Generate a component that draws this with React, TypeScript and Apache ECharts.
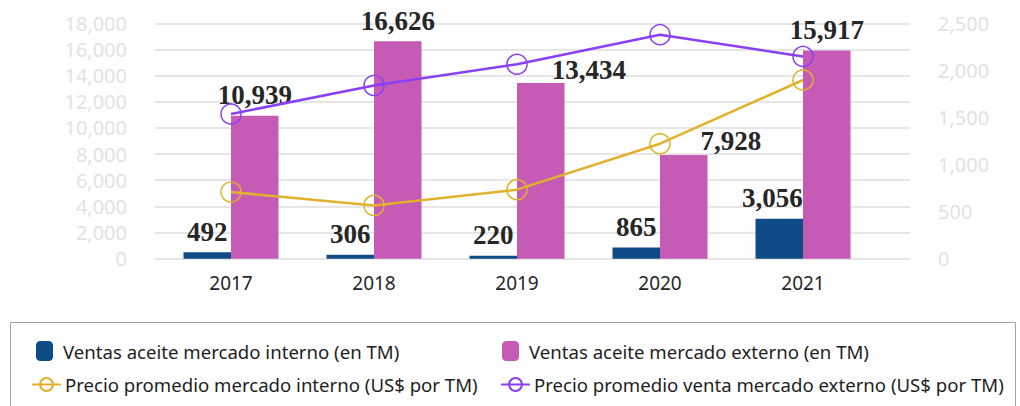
import React, { useEffect, useRef } from "react";
import * as echarts from "echarts";

const categories = ["2017", "2018", "2019", "2020", "2021"];
const ventasInterno = [492, 306, 220, 865, 3056];
const ventasExterno = [10939, 16626, 13434, 7928, 15917];
const precioInterno = [708, 566, 733, 1221, 1898];
const precioExterno = [1537, 1840, 2065, 2379, 2148];
const leftTicks = { min: 0, max: 18000, interval: 2000 };
const rightTicks = { min: 0, max: 2500, interval: 500 };

const names = [
  "Ventas aceite mercado interno (en TM)",
  "Ventas aceite mercado externo (en TM)",
  "Precio promedio mercado interno (US$ por TM)",
  "Precio promedio venta mercado externo (US$ por TM)",
];

const BLUE = "#0E4B87";
const PINK = "#C55BB5";
const YELLOW = "#E2B12C";
const PURPLE = "#8A3FF5";

export default function App() {
  const ref = useRef<HTMLDivElement>(null);
  useEffect(() => {
    document.body.style.margin = "0";
    const chart = echarts.init(ref.current!, null, { renderer: "svg" });
    const top = 23.3;
    const bottom = 406 - 258.7;
    const fmt = (v: number) => v.toLocaleString("en-US");
    const barLabel = {
      show: true,
      position: "top",
      distance: 7,
      fontFamily: "Liberation Serif",
      fontWeight: "bold",
      fontSize: 27,
      color: "#262626",
      formatter: (p: any) => fmt(p.value),
    };
    // label nudges (Excel manual placement in the original)
    const internoShift: Record<number, number[]> = { 4: [-7, 0] };
    const externoShift: Record<number, number[]> = { 2: [48, 7], 3: [47, 6] };
    const withShift = (arr: number[], shifts: Record<number, number[]>) =>
      arr.map((v, i) => (shifts[i] ? { value: v, label: { offset: shifts[i] } } : v));
    const legendText = { fontFamily: "Noto Sans", fontSize: 18.6, color: "#1E1E1E" };
    chart.setOption({
      animation: false,
      grid: [
        { left: 155, right: 110, top, bottom },
        { left: 159.5, right: 145.5, top, bottom },
      ],
      xAxis: [
        { type: "category", gridIndex: 0, data: categories, show: false },
        {
          type: "category",
          gridIndex: 1,
          data: categories,
          axisLine: { show: false },
          axisTick: { show: false },
          axisLabel: { color: "#262626", fontSize: 19, fontFamily: "Noto Sans", margin: 15 },
        },
      ],
      yAxis: [
        {
          type: "value",
          gridIndex: 0,
          position: "left",
          ...leftTicks,
          axisLine: { show: false },
          axisTick: { show: false },
          splitLine: { lineStyle: { color: "#E6E6E6", width: 2 } },
          axisLabel: { color: "#E2E2E2", fontSize: 20, fontFamily: "Noto Sans", margin: 28, formatter: fmt },
        },
        {
          type: "value",
          gridIndex: 0,
          position: "right",
          ...rightTicks,
          axisLine: { show: false },
          axisTick: { show: false },
          splitLine: { show: false },
          axisLabel: { color: "#E2E2E2", fontSize: 20, fontFamily: "Noto Sans", margin: 28, formatter: fmt },
        },
        { type: "value", gridIndex: 1, position: "left", ...leftTicks, show: false, splitLine: { show: false } },
        { type: "value", gridIndex: 1, position: "right", ...rightTicks, show: false, splitLine: { show: false } },
      ],
      legend: [
        { data: [names[0]], left: 36, top: 341, itemWidth: 17, itemHeight: 20, padding: 0, textStyle: { ...legendText, padding: [0, 0, 0, 5] } },
        { data: [names[1]], left: 502, top: 341, itemWidth: 17, itemHeight: 20, padding: 0, textStyle: { ...legendText, padding: [0, 0, 0, 5] } },
        { data: [names[2]], left: 31, top: 375, itemWidth: 29, itemHeight: 16, padding: 0, textStyle: { ...legendText, padding: [0, 0, 0, -1] } },
        { data: [names[3]], left: 500, top: 375, itemWidth: 29, itemHeight: 16, padding: 0, textStyle: { ...legendText, padding: [0, 0, 0, -1] } },
      ],
      graphic: [
        {
          type: "rect",
          shape: { x: 10.5, y: 322.5, width: 1005, height: 120 },
          style: { fill: "none", stroke: "#A6A6A6", lineWidth: 1 },
        },
      ],
      series: [
        {
          name: names[0],
          type: "bar",
          xAxisIndex: 1,
          yAxisIndex: 2,
          data: withShift(ventasInterno, internoShift),
          barWidth: 47.5,
          barGap: "0%",
          itemStyle: { color: BLUE },
          label: barLabel,
        },
        {
          name: names[1],
          type: "bar",
          xAxisIndex: 1,
          yAxisIndex: 2,
          data: withShift(ventasExterno, externoShift),
          barWidth: 47.5,
          barGap: "0%",
          itemStyle: { color: PINK },
          label: barLabel,
        },
        {
          name: names[2],
          type: "line",
          xAxisIndex: 1,
          yAxisIndex: 3,
          data: precioInterno,
          symbol: "circle",
          symbolSize: 20,
          lineStyle: { color: YELLOW, width: 2.5 },
          itemStyle: { color: "rgba(0,0,0,0)", borderColor: YELLOW, borderWidth: 1.5 },
          z: 3,
        },
        {
          name: names[3],
          type: "line",
          xAxisIndex: 1,
          yAxisIndex: 3,
          data: precioExterno,
          symbol: "circle",
          symbolSize: 20,
          lineStyle: { color: PURPLE, width: 2.5 },
          itemStyle: { color: "rgba(0,0,0,0)", borderColor: PURPLE, borderWidth: 1.5 },
          z: 3,
        },
      ],
    });
    return () => chart.dispose();
  }, []);
  return <div ref={ref} style={{ width: 1020, height: 406 }} />;
}
